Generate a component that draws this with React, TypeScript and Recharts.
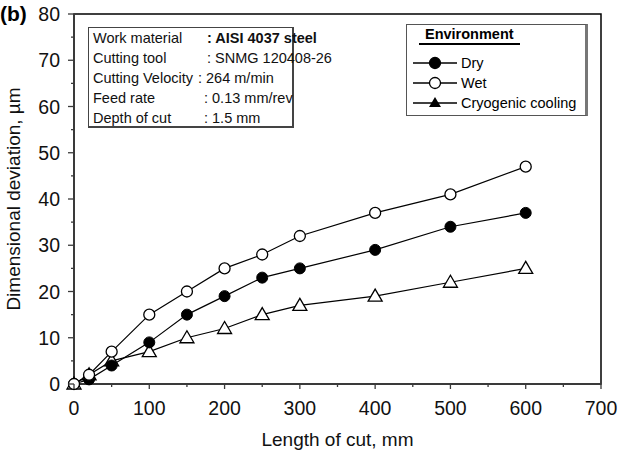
import React from 'react';
import { LineChart, Line, XAxis, YAxis, Legend, ReferenceArea } from 'recharts';

// Length of cut (mm) and dimensional deviation (µm) for each cooling environment
const lengths = [0, 20, 50, 100, 150, 200, 250, 300, 400, 500, 600];
const dry = [0, 1, 4, 9, 15, 19, 23, 25, 29, 34, 37];
const wet = [0, 2, 7, 15, 20, 25, 28, 32, 37, 41, 47];
const cryo = [0, 2, 5, 7, 10, 12, 15, 17, 19, 22, 25];

const xTicks = [0, 50, 100, 150, 200, 250, 300, 350, 400, 450, 500, 550, 600, 650, 700];
const yTicks = [0, 5, 10, 15, 20, 25, 30, 35, 40, 45, 50, 55, 60, 65, 70, 75, 80];

const legendOrder = ['dry', 'wet', 'cryo'];

const conditions = [
    ['Work material', ': AISI 4037 steel', 207],
    ['Cutting tool', ': SNMG 120408-26', 207],
    ['Cutting Velocity', ': 264 m/min', 198],
    ['Feed rate', ': 0.13 mm/rev', 204],
    ['Depth of cut', ': 1.5 mm', 204],
] as const;

const data = lengths.map((len, i) => ({ len, dry: dry[i], wet: wet[i], cryo: cryo[i] }));

const FONT = '"Liberation Sans", Arial, Helvetica, sans-serif';
const AXIS = '#3a3a3a';

const YTick = (props: any) => {
    const { x, y, payload } = props;
    const major = payload.value % 10 === 0;
    return (
        <g>
            <line x1={x} x2={x - (major ? 6 : 3)} y1={y} y2={y} stroke={AXIS} strokeWidth={1.3} />
            {major && (
                <text x={x - 14} y={y} dy="0.36em" textAnchor="end" fontSize={19.5} fill="#111" fontFamily={FONT}>
                    {payload.value}
                </text>
            )}
        </g>
    );
};

const XTick = (props: any) => {
    const { x, y, payload } = props;
    const major = payload.value % 100 === 0;
    return (
        <g>
            <line x1={x} x2={x} y1={y} y2={y + (major ? 5 : 3)} stroke={AXIS} strokeWidth={1.3} />
            {major && (
                <text x={x} y={y + 24} dy="0.36em" textAnchor="middle" fontSize={19.5} fill="#111" fontFamily={FONT}>
                    {payload.value}
                </text>
            )}
        </g>
    );
};

const Triangle = (props: any) => {
    const { cx, cy } = props;
    if (cx == null || cy == null) return null;
    return (
        <polygon
            points={`${cx},${cy - 7} ${cx - 7},${cy + 5} ${cx + 7},${cy + 5}`}
            fill="#fff"
            stroke="#000"
            strokeWidth={1.3}
        />
    );
};

const legendIcon = (key: string) => {
    if (key === 'cryo') return <polygon points="22,-6 16,4 28,4" fill="#000" />;
    return <circle cx={22} cy={0} r={5.5} fill={key === 'dry' ? '#000' : '#fff'} stroke="#000" strokeWidth={1.3} />;
};

const renderLegend = (props: any) => {
    const items = [...(props.payload || [])].sort(
        (a: any, b: any) => legendOrder.indexOf(a.dataKey) - legendOrder.indexOf(b.dataKey)
    );
    return (
        <div
            style={{
                width: 182,
                height: 92,
                boxSizing: 'border-box',
                border: '1px solid #555',
                borderRightWidth: 3,
                borderRightColor: '#777',
                background: '#fff',
                fontFamily: FONT,
                position: 'relative',
            }}
        >
            <div
                style={{
                    position: 'absolute',
                    left: 12,
                    top: 1,
                    fontSize: 14.5,
                    fontWeight: 'bold',
                    borderBottom: '2px solid #000',
                    padding: '0 6px 1px 6px',
                }}
            >
                Environment
            </div>
            {items.map((item: any, i: number) => (
                <div
                    key={item.dataKey}
                    style={{ position: 'absolute', left: 6, top: 28 + i * 20, height: 20, display: 'flex', alignItems: 'center' }}
                >
                    <svg width={46} height={20} style={{ overflow: 'visible' }}>
                        <g transform="translate(0,10)">
                            <line x1={0} x2={44} y1={0} y2={0} stroke="#000" strokeWidth={1.3} />
                            {legendIcon(item.dataKey)}
                        </g>
                    </svg>
                    <span style={{ fontSize: 14.5, marginLeft: 2 }}>{item.value}</span>
                </div>
            ))}
        </div>
    );
};

export default function App() {
    return (
        <div style={{ position: 'relative', width: 618, height: 452, background: '#fff', fontFamily: FONT }}>
            <style>{`body { margin: 0; }`}</style>
            <LineChart width={618} height={452} data={data} margin={{ top: 14, right: 17, left: 0, bottom: 0 }}>
                <ReferenceArea x1={0} x2={700} y1={0} y2={80} fill="none" stroke="#000" strokeWidth={1.5} ifOverflow="visible" />
                <XAxis
                    dataKey="len"
                    type="number"
                    domain={[0, 700]}
                    ticks={xTicks}
                    interval={0}
                    height={68}
                    tickSize={0}
                    tickMargin={0}
                    tick={<XTick />}
                    axisLine={{ stroke: AXIS, strokeWidth: 2 }}
                    tickLine={false}
                    label={{ value: 'Length of cut, mm', position: 'insideBottom', offset: 6, fontSize: 19, fill: '#111', fontFamily: FONT }}
                />
                <YAxis
                    type="number"
                    domain={[0, 80]}
                    ticks={yTicks}
                    interval={0}
                    width={74}
                    tickSize={0}
                    tickMargin={0}
                    tick={<YTick />}
                    axisLine={{ stroke: AXIS, strokeWidth: 2 }}
                    tickLine={false}
                    label={{
                        value: 'Dimensional deviation, µm',
                        angle: -90,
                        position: 'insideLeft',
                        offset: 13,
                        style: { textAnchor: 'middle' },
                        fontSize: 19,
                        fill: '#111',
                        fontFamily: FONT,
                    }}
                />
                <Legend
                    layout="vertical"
                    align="center"
                    verticalAlign="middle"
                    content={renderLegend}
                    wrapperStyle={{ position: 'absolute', left: 406, top: 24, width: 184, height: 94 }}
                />
                <Line
                    dataKey="cryo"
                    name="Cryogenic cooling"
                    stroke="#000"
                    strokeWidth={1.2}
                    dot={<Triangle />}
                    isAnimationActive={false}
                />
                <Line
                    dataKey="dry"
                    name="Dry"
                    stroke="#000"
                    strokeWidth={1.2}
                    dot={{ r: 5.5, fill: '#000', stroke: '#000', strokeWidth: 1 }}
                    isAnimationActive={false}
                />
                <Line
                    dataKey="wet"
                    name="Wet"
                    stroke="#000"
                    strokeWidth={1.2}
                    dot={{ r: 5.5, fill: '#fff', stroke: '#000', strokeWidth: 1.3 }}
                    isAnimationActive={false}
                />
            </LineChart>

            <div style={{ position: 'absolute', left: 0, top: 2, fontSize: 21, fontWeight: 'bold' }}>(b)</div>

            <div
                style={{
                    position: 'absolute',
                    left: 88,
                    top: 27,
                    width: 206,
                    height: 101,
                    boxSizing: 'border-box',
                    border: '1px solid #444',
                    borderRightWidth: 2,
                    borderBottomWidth: 2,
                    background: '#fff',
                    fontSize: 14.5,
                    color: '#111',
                }}
            >
                {conditions.map(([label, value, vx], i) => (
                    <React.Fragment key={label}>
                        <span style={{ position: 'absolute', left: 4, top: 2 + i * 20, whiteSpace: 'nowrap' }}>{label}</span>
                        <span
                            style={{
                                position: 'absolute',
                                left: vx - 89,
                                top: 2 + i * 20,
                                whiteSpace: 'nowrap',
                                fontWeight: i === 0 ? 'bold' : 'normal',
                            }}
                        >
                            {value}
                        </span>
                    </React.Fragment>
                ))}
            </div>
        </div>
    );
}
